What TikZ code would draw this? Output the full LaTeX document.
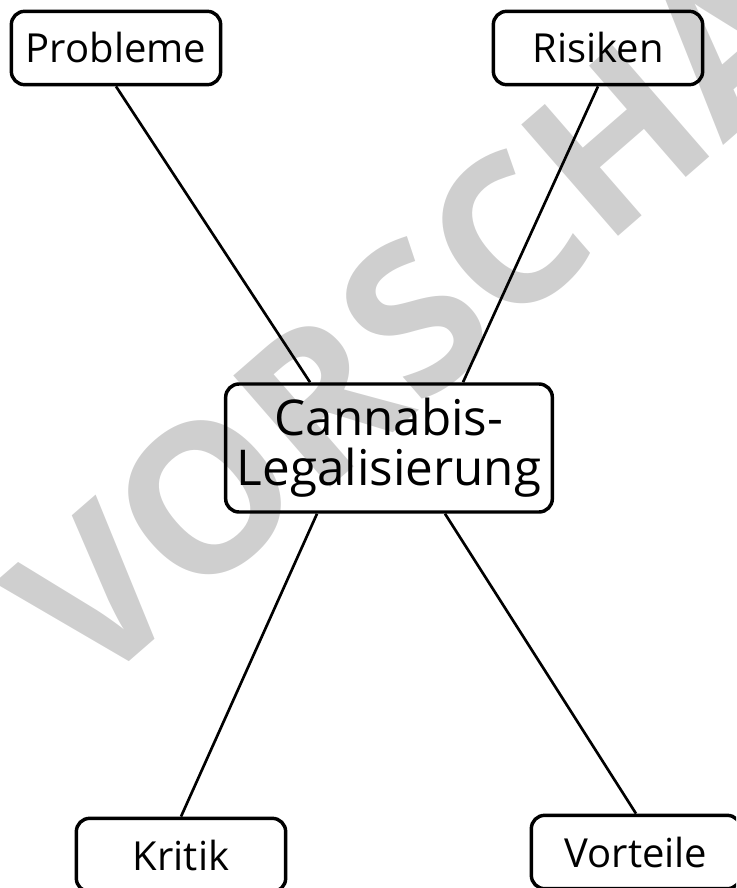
\documentclass[tikz,border=0pt]{standalone}
\usepackage{fontspec}
\setmainfont{Open Sans}
\usetikzlibrary{calc}

\begin{document}
\begin{tikzpicture}[x=0.75pt, y=-0.75pt,
  bx/.style={draw, line width=2.6pt, rounded corners=10pt, align=center,
             inner sep=0pt, font=\fontsize{30}{36}\selectfont},
  leaf/.style={bx, minimum width=157pt, minimum height=55pt},
  hub/.style={bx, minimum width=245pt, minimum height=96pt,
              font=\fontsize{37}{37.5}\selectfont},
  ln/.style={line width=2pt},
  wm/.style={text=black!19, inner sep=0pt, rotate=41,
             font=\fontsize{155}{155}\selectfont\bfseries}]
\useasboundingbox (0,0) rectangle (736,888);
\clip (0,0) rectangle (736,888);

% watermark behind everything
\node[wm] (mark) at (472,266) {VORSCHAU};

% the centre and the four topics round it
\node[hub] (hub) at (389,448) {Cannabis-\\Legalisierung};
\node[leaf] (pro) at (116,48) {Probleme};
\node[leaf] (ris) at (598,48) {Risiken};
\node[leaf] (kri) at (181,855) {Kritik};
\node[leaf] (vor) at (636,852) {Vorteile};

% spokes
\draw[ln] (pro.south) -- ($(hub.north)+(-79,0)$);
\draw[ln] (ris.south) -- ($(hub.north)+(74,0)$);
\draw[ln] ($(hub.south)+(-72,0)$) -- (kri.north);
\draw[ln] ($(hub.south)+(56,0)$) -- (vor.north);
\end{tikzpicture}
\end{document}
